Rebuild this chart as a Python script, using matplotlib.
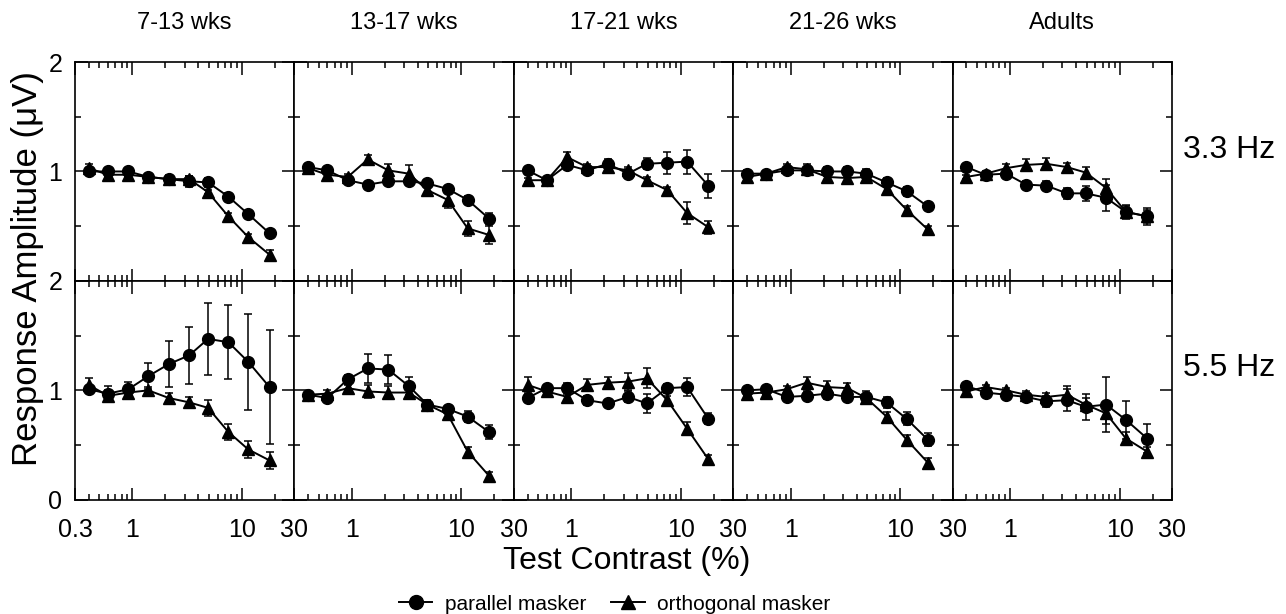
import matplotlib.pyplot as plt
import matplotlib.transforms as mtransforms
from matplotlib.ticker import FixedLocator, FixedFormatter, NullFormatter
from matplotlib.lines import Line2D

plt.rcParams['font.family'] = ['Liberation Sans', 'DejaVu Sans']

# test contrasts (%)
contrast = [0.4, 0.6, 0.92, 1.4, 2.15, 3.3, 4.9, 7.5, 11.4, 17.8]
ages = ['7-13 wks', '13-17 wks', '17-21 wks', '21-26 wks', 'Adults']
rates = ['3.3 Hz', '5.5 Hz']

# 3.3 Hz row
par_33 = [
    [1.0, 1.0, 1.0, 0.95, 0.93, 0.91, 0.90, 0.77, 0.61, 0.435],
    [1.04, 1.01, 0.92, 0.88, 0.91, 0.91, 0.89, 0.84, 0.74, 0.57],
    [1.01, 0.92, 1.06, 1.01, 1.07, 0.98, 1.07, 1.08, 1.09, 0.87],
    [0.98, 0.98, 1.01, 1.01, 1.0, 1.0, 0.98, 0.90, 0.82, 0.68],
    [1.04, 0.97, 0.98, 0.88, 0.87, 0.80, 0.80, 0.76, 0.63, 0.59],
]
par_33_err = [
    [0.03, 0.02, 0.02, 0.03, 0.04, 0.05, 0.04, 0.03, 0.02, 0.03],
    [0.03, 0.02, 0.02, 0.02, 0.03, 0.03, 0.03, 0.03, 0.04, 0.05],
    [0.03, 0.02, 0.03, 0.03, 0.04, 0.04, 0.05, 0.10, 0.11, 0.11],
    [0.03, 0.02, 0.03, 0.03, 0.04, 0.04, 0.04, 0.04, 0.04, 0.03],
    [0.02, 0.02, 0.03, 0.03, 0.04, 0.05, 0.07, 0.12, 0.06, 0.08],
]
orth_33 = [
    [1.03, 0.97, 0.97, 0.95, 0.93, 0.93, 0.81, 0.59, 0.40, 0.24],
    [1.03, 0.97, 0.95, 1.11, 1.01, 0.98, 0.83, 0.74, 0.48, 0.42],
    [0.92, 0.92, 1.13, 1.04, 1.04, 1.01, 0.92, 0.83, 0.62, 0.49],
    [0.95, 0.98, 1.04, 1.02, 0.95, 0.94, 0.95, 0.84, 0.65, 0.47],
    [0.95, 0.98, 1.03, 1.06, 1.07, 1.04, 0.99, 0.85, 0.63, 0.59],
]
orth_33_err = [
    [0.04, 0.02, 0.02, 0.03, 0.03, 0.03, 0.02, 0.03, 0.03, 0.04],
    [0.03, 0.03, 0.03, 0.04, 0.06, 0.08, 0.04, 0.07, 0.07, 0.08],
    [0.02, 0.02, 0.05, 0.03, 0.03, 0.03, 0.03, 0.03, 0.10, 0.06],
    [0.02, 0.02, 0.03, 0.05, 0.04, 0.04, 0.04, 0.03, 0.03, 0.03],
    [0.02, 0.02, 0.04, 0.05, 0.05, 0.04, 0.05, 0.08, 0.05, 0.06],
]

# 5.5 Hz row
par_55 = [
    [1.01, 0.97, 1.01, 1.13, 1.24, 1.32, 1.47, 1.44, 1.26, 1.03],
    [0.96, 0.93, 1.10, 1.20, 1.19, 1.04, 0.87, 0.83, 0.76, 0.62],
    [0.93, 1.02, 1.02, 0.91, 0.88, 0.94, 0.88, 1.02, 1.03, 0.74],
    [1.0, 1.01, 0.94, 0.95, 0.97, 0.94, 0.94, 0.89, 0.74, 0.55],
    [1.04, 0.98, 0.96, 0.94, 0.90, 0.91, 0.85, 0.87, 0.73, 0.56],
]
par_55_err = [
    [0.03, 0.07, 0.07, 0.12, 0.21, 0.26, 0.33, 0.34, 0.44, 0.52],
    [0.02, 0.03, 0.04, 0.13, 0.13, 0.08, 0.04, 0.03, 0.05, 0.06],
    [0.03, 0.03, 0.05, 0.04, 0.03, 0.05, 0.09, 0.04, 0.08, 0.05],
    [0.02, 0.02, 0.03, 0.04, 0.05, 0.04, 0.05, 0.05, 0.06, 0.06],
    [0.02, 0.02, 0.02, 0.04, 0.05, 0.10, 0.12, 0.25, 0.17, 0.13],
]
orth_55 = [
    [1.05, 0.95, 0.98, 1.0, 0.93, 0.89, 0.84, 0.62, 0.46, 0.36],
    [0.96, 0.97, 1.02, 0.99, 0.98, 0.98, 0.87, 0.78, 0.44, 0.22],
    [1.05, 0.99, 0.94, 1.05, 1.07, 1.08, 1.11, 0.91, 0.65, 0.37],
    [0.97, 0.98, 1.01, 1.07, 1.03, 1.02, 0.93, 0.76, 0.55, 0.34],
    [0.99, 1.03, 1.0, 0.96, 0.94, 0.96, 0.87, 0.79, 0.56, 0.44],
]
orth_55_err = [
    [0.06, 0.05, 0.05, 0.03, 0.05, 0.05, 0.07, 0.07, 0.08, 0.08],
    [0.02, 0.03, 0.03, 0.06, 0.06, 0.06, 0.04, 0.03, 0.04, 0.03],
    [0.07, 0.03, 0.06, 0.05, 0.05, 0.08, 0.09, 0.04, 0.06, 0.04],
    [0.02, 0.02, 0.03, 0.05, 0.06, 0.05, 0.04, 0.04, 0.04, 0.04],
    [0.02, 0.02, 0.02, 0.03, 0.04, 0.08, 0.06, 0.10, 0.06, 0.04],
]

rows = [(par_33, par_33_err, orth_33, orth_33_err),
        (par_55, par_55_err, orth_55, orth_55_err)]

fig, axes = plt.subplots(2, 5, figsize=(12.86, 6.14), dpi=100)
plt.subplots_adjust(left=0.0583, right=0.9114, top=0.899, bottom=0.186,
                    wspace=0, hspace=0)

style = dict(color='black', lw=1.4, elinewidth=1.1, capsize=3, capthick=1.1,
             markersize=8.5)

for r, (par, par_err, orth, orth_err) in enumerate(rows):
    for c in range(5):
        ax = axes[r, c]
        ax.errorbar(contrast, orth[c], yerr=orth_err[c], marker='^', **style)
        ax.errorbar(contrast, par[c], yerr=par_err[c], marker='o', **style)

        ax.set_xscale('log')
        ax.set_xlim(0.3, 30)
        ax.set_ylim(0, 2)
        ax.xaxis.set_major_locator(FixedLocator([0.3, 1, 10, 30]))
        ax.xaxis.set_minor_locator(FixedLocator(
            [0.4, 0.5, 0.6, 0.7, 0.8, 0.9, 2, 3, 4, 5, 6, 7, 8, 9, 20]))
        ax.xaxis.set_minor_formatter(NullFormatter())
        xl = ['0.3', '1', '10', '30'] if c == 0 else ['', '1', '10', '30']
        ax.xaxis.set_major_formatter(FixedFormatter(xl))
        ax.yaxis.set_major_locator(FixedLocator([0, 1, 2]))
        ax.yaxis.set_minor_locator(FixedLocator([0.5, 1.5]))
        yl = ['0', '1', '2'] if r == 1 else ['', '1', '2']
        ax.yaxis.set_major_formatter(FixedFormatter(yl))

        ax.tick_params(which='both', direction='in', top=True, right=True,
                       width=1.1, labelsize=18)
        ax.tick_params(axis='x', pad=13)
        ax.tick_params(axis='y', pad=9)
        ax.tick_params(which='major', length=9)
        ax.tick_params(which='minor', length=4)
        if r == 0:
            ax.tick_params(labelbottom=False)
        if c > 0:
            ax.tick_params(labelleft=False)
        for s in ax.spines.values():
            s.set_linewidth(1.2)

        if r == 0:
            ax.set_title(ages[c], fontsize=17, pad=24)
        if c == 4:
            trans = mtransforms.blended_transform_factory(ax.transAxes, ax.transData)
            ax.text(1.05, 1.2, rates[r], transform=trans, fontsize=23,
                    ha='left', va='center')

fig.text(0.021, 0.562, 'Response Amplitude (\u03bcV)', rotation=90,
         fontsize=25, ha='center', va='center')
fig.text(0.4876, 0.086, 'Test Contrast (%)', fontsize=23,
         ha='center', va='center')

handles = [Line2D([], [], color='black', marker='o', markersize=10, lw=1.4),
           Line2D([], [], color='black', marker='^', markersize=10, lw=1.4)]
fig.legend(handles, ['parallel masker', 'orthogonal masker'], loc='center',
           bbox_to_anchor=(0.478, 0.016), ncol=2, frameon=False, fontsize=15,
           handlelength=1.6, columnspacing=1.2, handletextpad=0.6,
           borderpad=0)

fig.savefig('out.png', dpi=100)
